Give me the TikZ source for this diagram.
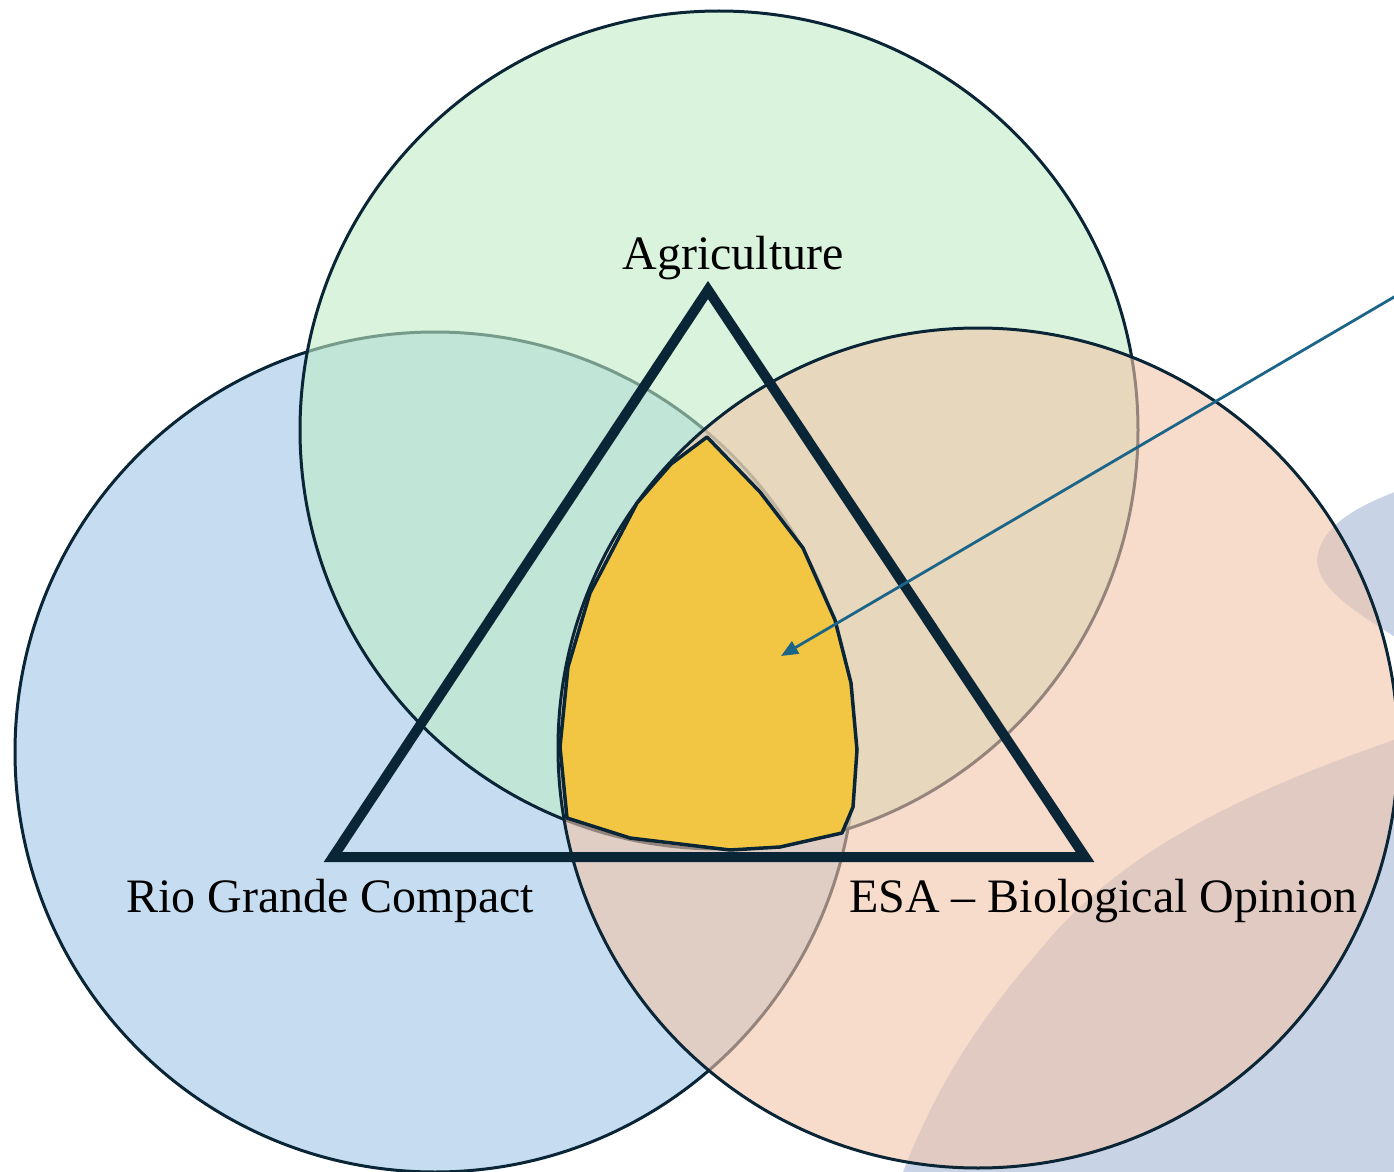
\documentclass[tikz,border=0pt]{standalone}
\usepackage{fontspec}
\setmainfont{Liberation Serif}
\usetikzlibrary{arrows.meta}
\definecolor{edgec}{HTML}{0A2536}
\definecolor{bluec}{HTML}{C6DDF1}
\definecolor{greenc}{HTML}{BFEBC4}
\definecolor{orangec}{HTML}{F2C4A9}
\definecolor{yellowc}{HTML}{F2C643}
\definecolor{blobc}{HTML}{C9D3E6}
\definecolor{arrowc}{HTML}{1B6588}
\tikzset{
  setcircle/.style={draw=edgec, line width=1.5pt, fill opacity=0.6},
  lbl/.style={font=\fontsize{24}{28}\selectfont, anchor=base, inner sep=0pt},
  pointer/.style={draw=arrowc, line width=1.4pt, -{Triangle[length=8.5pt,width=7pt]}}
}
\begin{document}
\begin{tikzpicture}[x=0.5pt,y=-0.5pt]
\useasboundingbox (0,0) rectangle (1394,1172);
\clip (0,0) rectangle (1394,1172);
% background blobs
\fill[blobc] (1394,740) .. controls (1250,790) and (1120,850) .. (1040,950)
  .. controls (970,1030) and (930,1100) .. (900,1180) -- (1400,1180) -- (1400,740) -- cycle;
\fill[blobc] (1400,490) .. controls (1360,505) and (1320,525) .. (1317,560)
  .. controls (1318,590) and (1360,615) .. (1400,640) -- cycle;
% circles
\path[setcircle, fill=bluec, fill opacity=1] (435,752) circle[radius=210pt];
\path[setcircle, fill=greenc] (719,430) circle[radius=209.5pt];
\path[setcircle, fill=orangec] (978,748) circle[radius=210pt];
% triple intersection
\filldraw[fill=yellowc, draw=edgec, line width=1.75pt, line join=round]
  (707,437) -- (671,464) -- (637,503) -- (590,593) -- (568,667) -- (560,747)
  -- (567,818) -- (630,838) -- (730,850) -- (780,847) -- (842,833) -- (853,807)
  -- (857,750) -- (851,683) -- (835,620) -- (803,548) -- (760,492) -- cycle;
% triangle
\draw[edgec, line width=5pt, line join=miter] (708,290) -- (1085,857) -- (333,857) -- cycle;
% labels
\node[lbl] (agri) at (733,270) {Agriculture};
\node[lbl] (rio) at (330,912) {Rio Grande Compact};
\node[lbl] (esa) at (1103,912) {ESA -- Biological Opinion};
% pointer
\coordinate (pstart) at (1400,293.5);
\coordinate (ptarget) at (781,656);
\draw[pointer] (pstart) -- (ptarget);
\end{tikzpicture}
\end{document}
